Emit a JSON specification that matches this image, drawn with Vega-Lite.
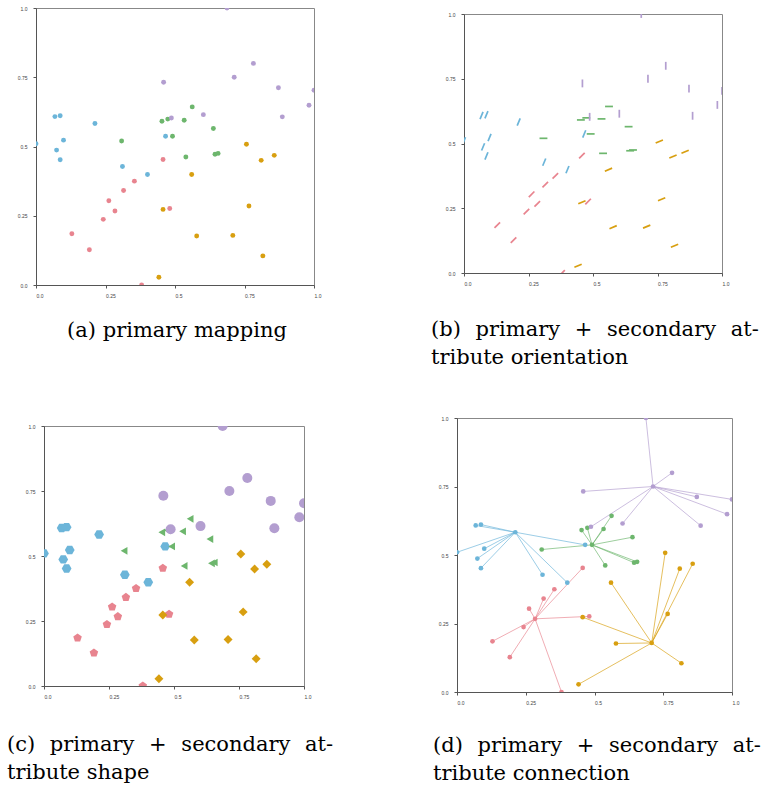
{
  "$schema": "https://vega.github.io/schema/vega-lite/v6.json",
  "background": "white",
  "padding": {"left": 6, "top": 5, "right": 5, "bottom": 0},
  "datasets": {
    "pts": [
      {"g": "c1", "x": 0.0, "y": 0.51},
      {"g": "c1", "x": 0.068, "y": 0.608},
      {"g": "c1", "x": 0.087, "y": 0.611},
      {"g": "c1", "x": 0.212, "y": 0.583},
      {"g": "c1", "x": 0.099, "y": 0.523},
      {"g": "c1", "x": 0.074, "y": 0.487},
      {"g": "c1", "x": 0.087, "y": 0.452},
      {"g": "c1", "x": 0.311, "y": 0.428},
      {"g": "c1", "x": 0.401, "y": 0.399},
      {"g": "c1", "x": 0.466, "y": 0.537},
      {"g": "c2", "x": 0.308, "y": 0.52},
      {"g": "c2", "x": 0.453, "y": 0.591},
      {"g": "c2", "x": 0.474, "y": 0.599},
      {"g": "c2", "x": 0.491, "y": 0.537},
      {"g": "c2", "x": 0.533, "y": 0.595},
      {"g": "c2", "x": 0.562, "y": 0.643},
      {"g": "c2", "x": 0.539, "y": 0.462},
      {"g": "c2", "x": 0.638, "y": 0.565},
      {"g": "c2", "x": 0.644, "y": 0.472},
      {"g": "c2", "x": 0.655, "y": 0.475},
      {"g": "c3", "x": 0.687, "y": 1.0},
      {"g": "c3", "x": 0.782, "y": 0.8},
      {"g": "c3", "x": 0.713, "y": 0.75},
      {"g": "c3", "x": 0.459, "y": 0.732},
      {"g": "c3", "x": 0.872, "y": 0.712},
      {"g": "c3", "x": 1.0, "y": 0.703},
      {"g": "c3", "x": 0.982, "y": 0.649},
      {"g": "c3", "x": 0.886, "y": 0.607},
      {"g": "c3", "x": 0.602, "y": 0.615},
      {"g": "c3", "x": 0.487, "y": 0.603},
      {"g": "c4", "x": 0.457, "y": 0.453},
      {"g": "c4", "x": 0.354, "y": 0.375},
      {"g": "c4", "x": 0.315, "y": 0.341},
      {"g": "c4", "x": 0.262, "y": 0.304},
      {"g": "c4", "x": 0.284, "y": 0.267},
      {"g": "c4", "x": 0.242, "y": 0.237},
      {"g": "c4", "x": 0.129, "y": 0.185},
      {"g": "c4", "x": 0.192, "y": 0.127},
      {"g": "c4", "x": 0.38, "y": 0.0},
      {"g": "c4", "x": 0.481, "y": 0.276},
      {"g": "c5", "x": 0.757, "y": 0.508},
      {"g": "c5", "x": 0.81, "y": 0.45},
      {"g": "c5", "x": 0.857, "y": 0.468},
      {"g": "c5", "x": 0.56, "y": 0.399},
      {"g": "c5", "x": 0.457, "y": 0.273},
      {"g": "c5", "x": 0.766, "y": 0.285},
      {"g": "c5", "x": 0.578, "y": 0.177},
      {"g": "c5", "x": 0.708, "y": 0.179},
      {"g": "c5", "x": 0.816, "y": 0.105},
      {"g": "c5", "x": 0.442, "y": 0.028}
    ],
    "hubs": [
      {"g": "c1", "hx": 0.212, "hy": 0.583},
      {"g": "c2", "hx": 0.491, "hy": 0.537},
      {"g": "c3", "hx": 0.713, "hy": 0.75},
      {"g": "c4", "hx": 0.284, "hy": 0.267},
      {"g": "c5", "hx": 0.708, "hy": 0.179}
    ]
  },
  "columns": 2,
  "bounds": "flush",
  "center": false,
  "spacing": {"column": 143, "row": 133},
  "concat": [
    {
      "width": 278,
      "height": 277,
      "data": {"name": "pts"},
      "title": {"text": ["(a) primary mapping"], "orient": "bottom", "anchor": "middle", "frame": "group", "offset": 22, "dx": 2},
      "mark": {"type": "point", "filled": true, "size": 24, "opacity": 1, "clip": true},
      "encoding": {
        "x": {"field": "x", "type": "quantitative", "scale": {"domain": [0, 1], "nice": false, "zero": false}, "axis": {"values": [0, 0.25, 0.5, 0.75, 1], "title": null, "labelExpr": "datum.value == 0 ? '0.0' : datum.value == 1 ? '1.0' : datum.value == 0.5 ? '0.5' : datum.value == 0.25 ? '0.25' : '0.75'"}},
        "y": {"field": "y", "type": "quantitative", "scale": {"domain": [0, 1], "nice": false, "zero": false}, "axis": {"values": [0, 0.25, 0.5, 0.75, 1], "title": null, "labelExpr": "datum.value == 0 ? '0.0' : datum.value == 1 ? '1.0' : datum.value == 0.5 ? '0.5' : datum.value == 0.25 ? '0.25' : '0.75'"}},
        "color": {"field": "g", "type": "nominal", "scale": {"domain": ["c1", "c2", "c3", "c4", "c5"], "range": ["#6CB5D9", "#6DB66D", "#B39ED0", "#E8848F", "#D89F10"]}, "legend": null}
      }
    },
    {
      "hconcat": [
        {
          "width": 7,
          "height": 1,
          "view": {"stroke": null},
          "data": {"values": []},
          "mark": {"type": "point", "opacity": 0}
        },
        {
          "vconcat": [
            {
              "width": 1,
              "height": 6,
              "view": {"stroke": null},
              "data": {"values": []},
              "mark": {"type": "point", "opacity": 0}
            },
            {
              "width": 258,
              "height": 259,
              "data": {"name": "pts"},
              "title": {"text": ["(b)\u2002\u2009primary\u2002\u2009+\u2002\u2009secondary\u2002\u2009at-", "tribute orientation"], "orient": "bottom", "anchor": "start", "frame": "group", "offset": 33, "dx": -33},
              "mark": {"type": "point", "shape": "stroke", "filled": false, "size": 62, "strokeWidth": 1.7, "opacity": 1, "clip": true},
              "encoding": {
                "x": {"field": "x", "type": "quantitative", "scale": {"domain": [0, 1], "nice": false, "zero": false}, "axis": {"values": [0, 0.25, 0.5, 0.75, 1], "title": null, "labelExpr": "datum.value == 0 ? '0.0' : datum.value == 1 ? '1.0' : datum.value == 0.5 ? '0.5' : datum.value == 0.25 ? '0.25' : '0.75'"}},
                "y": {"field": "y", "type": "quantitative", "scale": {"domain": [0, 1], "nice": false, "zero": false}, "axis": {"values": [0, 0.25, 0.5, 0.75, 1], "title": null, "labelExpr": "datum.value == 0 ? '0.0' : datum.value == 1 ? '1.0' : datum.value == 0.5 ? '0.5' : datum.value == 0.25 ? '0.25' : '0.75'"}},
                "color": {"field": "g", "type": "nominal", "scale": {"domain": ["c1", "c2", "c3", "c4", "c5"], "range": ["#6CB5D9", "#6DB66D", "#B39ED0", "#E8848F", "#D89F10"]}, "legend": null},
                "angle": {"field": "g", "type": "nominal", "scale": {"type": "ordinal", "domain": ["c1", "c2", "c3", "c4", "c5"], "range": [292.5, 0, 90, 315, 337.5]}, "legend": null}
              }
            }
          ],
          "spacing": 0,
          "bounds": "flush"
        }
      ],
      "spacing": 0,
      "bounds": "flush"
    },
    {
      "hconcat": [
        {
          "width": 8,
          "height": 1,
          "view": {"stroke": null},
          "data": {"values": []},
          "mark": {"type": "point", "opacity": 0}
        },
        {
          "vconcat": [
            {
              "width": 1,
              "height": 8,
              "view": {"stroke": null},
              "data": {"values": []},
              "mark": {"type": "point", "opacity": 0}
            },
            {
              "width": 260,
              "height": 260,
              "data": {"name": "pts"},
              "title": {"text": ["(c)\u2002\u2009primary\u2002\u2009+\u2002\u2009secondary\u2002\u2009at-", "tribute shape"], "orient": "bottom", "anchor": "start", "frame": "group", "offset": 35, "dx": -37},
              "mark": {"type": "point", "filled": true, "opacity": 1, "clip": true},
              "encoding": {
                "x": {"field": "x", "type": "quantitative", "scale": {"domain": [0, 1], "nice": false, "zero": false}, "axis": {"values": [0, 0.25, 0.5, 0.75, 1], "title": null, "labelExpr": "datum.value == 0 ? '0.0' : datum.value == 1 ? '1.0' : datum.value == 0.5 ? '0.5' : datum.value == 0.25 ? '0.25' : '0.75'"}},
                "y": {"field": "y", "type": "quantitative", "scale": {"domain": [0, 1], "nice": false, "zero": false}, "axis": {"values": [0, 0.25, 0.5, 0.75, 1], "title": null, "labelExpr": "datum.value == 0 ? '0.0' : datum.value == 1 ? '1.0' : datum.value == 0.5 ? '0.5' : datum.value == 0.25 ? '0.25' : '0.75'"}},
                "color": {"field": "g", "type": "nominal", "scale": {"domain": ["c1", "c2", "c3", "c4", "c5"], "range": ["#6CB5D9", "#6DB66D", "#B39ED0", "#E8848F", "#D89F10"]}, "legend": null},
                "shape": {"field": "g", "type": "nominal", "scale": {"domain": ["c1", "c2", "c3", "c4", "c5"], "range": ["M-1,0L-0.5,-0.866L0.5,-0.866L1,0L0.5,0.866L-0.5,0.866Z", "triangle-left", "circle", "M0,-1L0.951,-0.309L0.588,0.809L-0.588,0.809L-0.951,-0.309Z", "diamond"]}, "legend": null},
                "size": {"field": "g", "type": "nominal", "scale": {"type": "ordinal", "domain": ["c1", "c2", "c3", "c4", "c5"], "range": [95, 60, 100, 80, 80]}, "legend": null}
              }
            }
          ],
          "spacing": 0,
          "bounds": "flush"
        }
      ],
      "spacing": 0,
      "bounds": "flush"
    },
    {
      "width": 275,
      "height": 274,
      "data": {"name": "pts"},
      "title": {"text": ["(d)\u2002\u2009primary\u2002\u2009+\u2002\u2009secondary\u2002\u2009at-", "tribute connection"], "orient": "bottom", "anchor": "start", "frame": "group", "offset": 30, "dx": -24},
      "layer": [
        {
          "transform": [{"lookup": "g", "from": {"data": {"name": "hubs"}, "key": "g", "fields": ["hx", "hy"]}}],
          "mark": {"type": "rule", "strokeWidth": 0.9, "opacity": 0.75, "clip": true},
          "encoding": {
            "x": {"field": "x", "type": "quantitative", "scale": {"domain": [0, 1], "nice": false, "zero": false}, "axis": {"values": [0, 0.25, 0.5, 0.75, 1], "title": null, "labelExpr": "datum.value == 0 ? '0.0' : datum.value == 1 ? '1.0' : datum.value == 0.5 ? '0.5' : datum.value == 0.25 ? '0.25' : '0.75'"}},
            "y": {"field": "y", "type": "quantitative", "scale": {"domain": [0, 1], "nice": false, "zero": false}, "axis": {"values": [0, 0.25, 0.5, 0.75, 1], "title": null, "labelExpr": "datum.value == 0 ? '0.0' : datum.value == 1 ? '1.0' : datum.value == 0.5 ? '0.5' : datum.value == 0.25 ? '0.25' : '0.75'"}},
            "x2": {"field": "hx"},
            "y2": {"field": "hy"},
            "color": {"field": "g", "type": "nominal", "scale": {"domain": ["c1", "c2", "c3", "c4", "c5"], "range": ["#6CB5D9", "#6DB66D", "#B39ED0", "#E8848F", "#D89F10"]}, "legend": null}
          }
        },
        {
          "mark": {"type": "point", "filled": true, "size": 22, "opacity": 1, "clip": true},
          "encoding": {
            "x": {"field": "x", "type": "quantitative"},
            "y": {"field": "y", "type": "quantitative"},
            "color": {"field": "g", "type": "nominal", "scale": {"domain": ["c1", "c2", "c3", "c4", "c5"], "range": ["#6CB5D9", "#6DB66D", "#B39ED0", "#E8848F", "#D89F10"]}, "legend": null}
          }
        }
      ]
    }
  ],
  "config": {
    "view": {"stroke": "#888888", "strokeWidth": 1},
    "axis": {"domainColor": "#555555", "domainWidth": 1, "tickColor": "#555555", "tickSize": 3, "tickWidth": 1, "labelFont": "Liberation Sans", "labelFontSize": 5, "labelColor": "#444444", "grid": false},
    "axisX": {"labelAlign": "left", "labelFlush": false, "labelPadding": 5},
    "axisY": {"labelPadding": 6, "labelFlush": false},
    "title": {"font": "DejaVu Serif", "fontSize": 21, "fontWeight": "normal", "color": "#000000", "lineHeight": 28}
  }
}
